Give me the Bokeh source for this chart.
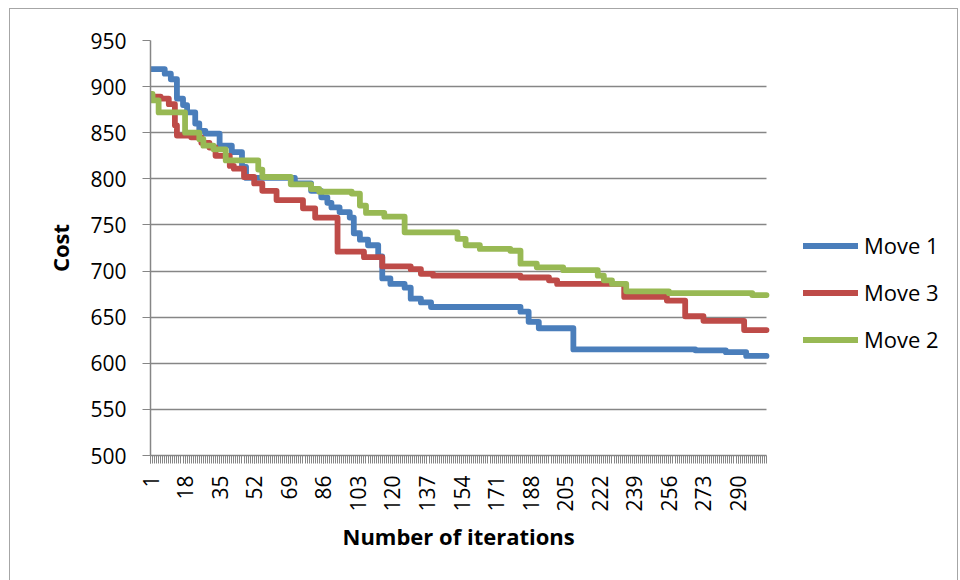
import math
from bokeh.plotting import figure
from bokeh.models import Range1d, FixedTicker, Legend, LegendItem, Title
from bokeh.embed import file_html
from bokeh.resources import INLINE

# ---------------- data ----------------
N_ITER = 304
y_ticks = [500, 550, 600, 650, 700, 750, 800, 850, 900, 950]
x_tick_labels = [1, 18, 35, 52, 69, 86, 103, 120, 137, 154, 171, 188, 205, 222, 239, 256, 273, 290]

# change points (iteration at which the cost takes a new value)
move1_iter = [1, 8, 11, 14, 17, 19, 23, 25, 28, 35, 41, 46, 48, 72, 80, 85, 88, 90, 94, 99, 101,
              104, 108, 113, 115, 119, 126, 129, 134, 139, 183, 187, 192, 209, 269, 284, 294]
move1_cost = [919, 914, 908, 887, 880, 872, 860, 852, 849, 836, 829, 813, 801, 795, 787, 780, 774, 769, 764, 758, 741,
              734, 728, 716, 692, 686, 682, 670, 666, 661, 656, 645, 638, 615, 614, 612, 608]

move3_iter = [1, 6, 10, 13, 14, 21, 26, 30, 33, 40, 42, 47, 52, 56, 63, 76, 82, 93, 106, 115,
              129, 134, 140, 183, 197, 201, 234, 255, 264, 273, 293]
move3_cost = [889, 887, 881, 858, 847, 845, 839, 834, 825, 814, 811, 802, 795, 787, 777, 768, 758, 721, 715, 705,
              702, 697, 695, 693, 690, 686, 672, 668, 651, 646, 636]

move2_iter = [1, 2, 5, 18, 25, 27, 32, 38, 54, 56, 70, 80, 84, 100, 104, 107, 116, 126, 152, 156,
              163, 178, 183, 191, 204, 221, 224, 228, 235, 256, 297]
move2_cost = [892, 885, 872, 850, 843, 836, 832, 820, 810, 802, 794, 789, 786, 784, 771, 763, 759, 742, 735, 728,
              724, 722, 708, 704, 701, 695, 690, 686, 678, 676, 674]

series_names = ["Move 1", "Move 3", "Move 2"]
series_colors = ["#4a7ebb", "#be4b48", "#98b954"]
x_title = "Number of iterations"
y_title = "Cost"

# ---------------- layout (pixels) ----------------
FONT = "Open Sans"
GRID = "#868686"
FIG_W, FIG_H = 947, 571          # figure placed at page (10, 9)
FRAME_L, FRAME_T = 150, 40       # page coords of plot area
DATA_R, FRAME_B = 766, 455       # right end of the data area, bottom of plot area
FRAME_R = 955                    # frame continues to the right to host the legend
x_end = N_ITER + (FRAME_R - DATA_R) * (N_ITER - 1) / (DATA_R - FRAME_L)

p = figure(width=FIG_W, height=FIG_H, output_backend="svg", toolbar_location=None,
           x_range=Range1d(1, x_end), y_range=Range1d(500, 950),
           min_border_left=FRAME_L - 10, min_border_right=10 + FIG_W - FRAME_R,
           min_border_top=FRAME_T - 9, min_border_bottom=9 + FIG_H - FRAME_B)
p.outline_line_color = None
p.background_fill_color = "white"
p.border_fill_color = "white"
p.styles = {"margin-left": "10px", "margin-top": "9px",
            "outline": "1.5px solid #a6a6a6"}

# axes
p.yaxis.ticker = FixedTicker(ticks=y_ticks)
p.xaxis.ticker = FixedTicker(ticks=x_tick_labels, minor_ticks=list(range(1, N_ITER + 1)))
p.xaxis.bounds = (1, N_ITER)
p.xaxis.major_label_orientation = math.pi / 2
for ax in (p.xaxis, p.yaxis):
    ax.axis_line_color = GRID
    ax.axis_line_width = 1.5
    ax.major_tick_line_color = GRID
    ax.major_tick_in = 0
    ax.major_tick_out = 8
    ax.major_label_text_font = FONT
    ax.major_label_text_font_size = "21px"
    ax.major_label_text_color = "#000000"
    ax.axis_label_text_font = FONT
    ax.axis_label_text_font_size = "22px"
    ax.axis_label_text_font_style = "bold"
    ax.axis_label_text_color = "#000000"
p.xaxis.minor_tick_line_color = GRID
p.xaxis.minor_tick_in = 0
p.xaxis.minor_tick_out = 8
p.yaxis.minor_tick_line_color = None
p.yaxis.major_label_standoff = 16
p.xaxis.major_label_standoff = 12
p.yaxis.axis_label = y_title
p.yaxis.axis_label_standoff = 12

# x-axis title centred under the data area (not the whole frame)
p.add_layout(Title(text=x_title, align="left", offset=192, standoff=8,
                   text_font=FONT, text_font_size="22px", text_font_style="bold",
                   text_color="#000000"), "below")

p.xgrid.grid_line_color = None
p.ygrid.grid_line_color = GRID
p.ygrid.grid_line_width = 1.3
try:
    p.ygrid.cross_bounds = (1, N_ITER)
except Exception:
    p.ygrid.grid_line_color = None
    p.segment(x0=[1] * len(y_ticks), x1=[N_ITER] * len(y_ticks), y0=y_ticks, y1=y_ticks,
              line_color=GRID, line_width=1.3)

# series
renderers = []
for xs, ys, c in [(move1_iter, move1_cost, series_colors[0]),
                  (move3_iter, move3_cost, series_colors[1]),
                  (move2_iter, move2_cost, series_colors[2])]:
    r = p.step(xs + [N_ITER], ys + [ys[-1]], mode="after", line_width=5.8, line_color=c,
               line_join="round", line_cap="round")
    renderers.append(r)

legend = Legend(items=[LegendItem(label=n, renderers=[r]) for n, r in zip(series_names, renderers)],
                location=(803 - FRAME_L, 101), orientation="vertical",
                label_text_font=FONT, label_text_font_size="22px", label_text_color="#000000",
                glyph_width=55, glyph_height=29, label_height=29, label_standoff=6,
                spacing=17, padding=0, margin=0,
                border_line_color=None, background_fill_alpha=0)
p.add_layout(legend, "center")

open("out.html", "w").write(file_html(p, INLINE))
